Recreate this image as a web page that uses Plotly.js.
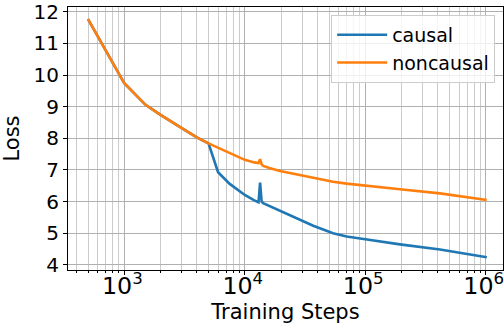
<!DOCTYPE html>
<html><head><meta charset="utf-8">
<script src="https://cdn.plot.ly/plotly-3.0.1.min.js"></script>
<style>html,body{margin:0;padding:0;background:#fff}#chart{width:504px;height:327px}</style>
</head><body><div id="chart"></div>
<script>
var steps = [500, 1000, 1500, 2000, 3000, 4000, 5000, 6000, 7500, 10000, 12000, 13000, 13400, 13800, 14200, 16000, 19600, 29000, 37000, 54000, 70000, 100000, 194000, 417000, 690000, 1020000];
var causal = [11.77, 9.74, 9.06, 8.74, 8.32, 8.03, 7.84, 6.93, 6.56, 6.21, 6.04, 5.98, 6.6, 6.0, 5.95, 5.86, 5.73, 5.42, 5.24, 5.0, 4.9, 4.81, 4.65, 4.49, 4.34, 4.24];
var noncausal = [11.77, 9.74, 9.06, 8.74, 8.32, 8.03, 7.84, 7.7, 7.53, 7.32, 7.24, 7.22, 7.34, 7.18, 7.13, 7.06, 6.97, 6.84, 6.76, 6.63, 6.57, 6.50, 6.39, 6.26, 6.14, 6.05];
var yTicks = [4, 5, 6, 7, 8, 9, 10, 11, 12];

var font = "DejaVu Sans";
var data = [
  {x: steps, y: causal, name: "causal", legendgroup: "a", type: "scatter", mode: "lines", line: {color: "#1f77b4", width: 2.6}},
  {x: steps, y: noncausal, name: "noncausal", legendgroup: "b", type: "scatter", mode: "lines", line: {color: "#ff7f0e", width: 2.6}}
];
var layout = {
  width: 504, height: 327,
  margin: {l: 68, r: 1, t: 7, b: 57},
  paper_bgcolor: "#fff", plot_bgcolor: "#fff",
  font: {family: font, size: 20, color: "#000"},
  showlegend: true,
  legend: {x: 0.982, y: 0.970, xanchor: "right", yanchor: "top", bgcolor: "rgba(255,255,255,0.8)",
           bordercolor: "#cccccc", borderwidth: 1, font: {family: font, size: 19},
           traceorder: "grouped", tracegroupgap: 0, itemwidth: 50},
  xaxis: {
    type: "log", range: [Math.log10(341), Math.log10(1.39e6)],
    title: {text: "Training Steps", font: {family: font, size: 21}, standoff: 4},
    dtick: 1, exponentformat: "power", showexponent: "all", ticklabeloverflow: "allow",
    ticklabelstandoff: -9, ticklabelshift: -2,
    showgrid: true, gridcolor: "#b0b0b0", gridwidth: 1,
    ticks: "outside", ticklen: 4, tickcolor: "#000",
    minor: {dtick: "D1", showgrid: true, gridcolor: "#cccccc", ticks: "outside", ticklen: 2, tickcolor: "#000"},
    showline: true, linecolor: "#000", linewidth: 1, mirror: true, zeroline: false,
    tickfont: {family: font, size: 19}
  },
  yaxis: {
    range: [3.84, 12.15],
    title: {text: "Loss", font: {family: font, size: 21}, standoff: 8},
    tickmode: "array", tickvals: yTicks, ticklabeloverflow: "allow",
    showgrid: true, gridcolor: "#b0b0b0", gridwidth: 1,
    ticks: "outside", ticklen: 4, tickcolor: "#000",
    showline: true, linecolor: "#000", linewidth: 1, mirror: true, zeroline: false,
    tickfont: {family: font, size: 20}
  }
};
Plotly.newPlot("chart", data, layout, {displayModeBar: false, staticPlot: true});
</script></body></html>
